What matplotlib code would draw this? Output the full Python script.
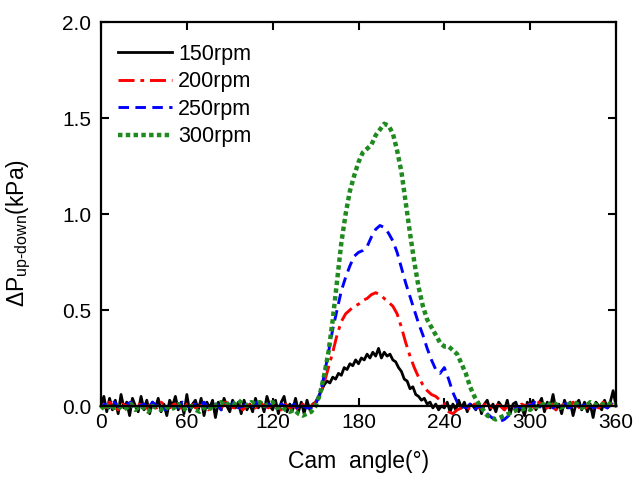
import numpy as np
import matplotlib
matplotlib.use("Agg")
import matplotlib.pyplot as plt

plt.rcParams['font.family'] = ['Liberation Sans', 'DejaVu Sans']
plt.rcParams['mathtext.fontset'] = 'custom'
plt.rcParams['mathtext.rm'] = 'Liberation Sans'
plt.rcParams['mathtext.it'] = 'Liberation Sans:italic'

# cam angle grids (deg)
angle_150 = np.arange(0, 361, 2)
angle_other = np.arange(0, 361, 3)

# 150 rpm, every 2 deg
dp_150 = [
    0.00, 0.05, -0.03, 0.04, -0.02, 0.03, -0.04, 0.06, -0.01, 0.02,
    -0.05, 0.04, 0.00, -0.03, 0.05, -0.02, 0.03, -0.04, 0.02, -0.01,
    0.04, -0.03, 0.01, -0.05, 0.03, 0.00, 0.05, -0.02, 0.02, -0.04,
    0.06, -0.03, 0.01, 0.03, -0.02, 0.04, -0.05, 0.02, -0.01, 0.03,
    -0.06, 0.02, -0.02, 0.04, 0.00, -0.03, 0.03, -0.01, 0.02, -0.04,
    0.03, -0.02, 0.01, -0.03, 0.04, -0.01, 0.02, -0.03, 0.05, 0.00,
    -0.02, 0.03, -0.04, 0.02, 0.05, -0.03, 0.01, -0.02, 0.04, -0.03,
    0.02, -0.04, 0.03, -0.02, 0.01,
    0.02, 0.05, 0.08, 0.11, 0.13, 0.12, 0.15, 0.14, 0.17, 0.16,
    0.20, 0.19, 0.22, 0.21, 0.24, 0.22, 0.25, 0.24, 0.27, 0.25,
    0.28, 0.26, 0.30, 0.25, 0.28, 0.26, 0.27, 0.24, 0.23, 0.20,
    0.18, 0.14, 0.13, 0.09, 0.10, 0.06, 0.05, 0.03, 0.04, 0.01,
    0.02, -0.01, 0.01, -0.02, 0.00, -0.01, 0.02, -0.03, 0.01, -0.02,
    0.03, -0.01, 0.02, -0.03, 0.01, 0.00, -0.02, 0.02, -0.04, 0.01,
    0.03, -0.02, 0.01, -0.03, 0.02, 0.00, -0.02, 0.03, -0.04, 0.01,
    0.02, -0.03, 0.00, -0.05, 0.02, -0.01, 0.03, -0.02, 0.01, 0.04,
    -0.03, 0.02, -0.01, 0.06, -0.02, 0.01, -0.04, 0.03, -0.01, 0.02,
    -0.05, 0.01, 0.03, -0.02, 0.02, -0.03, 0.01, -0.06, 0.02, 0.00,
    -0.02, 0.03, -0.01, 0.02, 0.08, 0.00,
]

# 200 rpm, every 3 deg
dp_200 = [
    0.01, -0.01, 0.02, 0.00, -0.02, 0.01, 0.00, 0.02, -0.01, 0.01,
    -0.02, 0.00, 0.01, -0.01, 0.02, 0.00, -0.01, 0.01, 0.00, -0.02,
    0.01, 0.02, -0.01, 0.00, 0.01, -0.02, 0.01, 0.00, -0.01, 0.02,
    0.00, -0.01, 0.01, -0.02, 0.00, 0.01, -0.01, 0.02, 0.00, -0.01,
    0.01, 0.00, -0.02, 0.01, -0.01, 0.00, -0.02, 0.01, -0.01, 0.00,
    0.02, 0.05, 0.12, 0.20, 0.28, 0.37, 0.44, 0.48, 0.50, 0.52,
    0.53, 0.55, 0.56, 0.58, 0.59, 0.58, 0.56, 0.54, 0.52, 0.48,
    0.41, 0.33, 0.26, 0.20, 0.15, 0.11, 0.08, 0.06, 0.05, 0.03,
    0.01, -0.03, -0.04, -0.02, -0.01, 0.00, -0.02, 0.01, -0.01, 0.00,
    0.02, -0.01, 0.01, 0.00, -0.02, 0.01, 0.00, -0.01, 0.01, 0.00,
    0.01, -0.01, 0.02, 0.00, -0.01, 0.01, -0.02, 0.00, 0.01, -0.01,
    0.02, 0.00, -0.02, -0.01, 0.01, 0.00, -0.01, 0.02, 0.00, 0.01, 0.01,
]

# 250 rpm
dp_250 = [
    0.00, 0.01, -0.01, 0.02, 0.00, -0.01, 0.01, 0.02, -0.02, 0.00,
    0.01, -0.01, 0.02, 0.00, 0.01, -0.02, 0.00, 0.01, -0.01, 0.02,
    0.00, -0.01, 0.01, 0.00, 0.02, -0.01, 0.00, 0.01, -0.02, 0.01,
    0.00, 0.02, -0.01, 0.00, 0.01, -0.01, 0.02, 0.00, -0.01, 0.01,
    0.00, -0.02, 0.01, 0.00, -0.01, 0.01, -0.02, 0.00, -0.01, -0.01,
    0.01, 0.06, 0.16, 0.28, 0.40, 0.50, 0.60, 0.67, 0.73, 0.78,
    0.80, 0.81, 0.83, 0.88, 0.92, 0.94, 0.93, 0.90, 0.86, 0.80,
    0.72, 0.64, 0.57, 0.50, 0.43, 0.37, 0.30, 0.24, 0.19, 0.17,
    0.20, 0.14, 0.07, 0.02, 0.00, -0.01, 0.01, -0.02, 0.00, -0.01,
    -0.04, -0.06, -0.07, -0.08, -0.07, -0.05, -0.03, 0.00, -0.01, 0.01,
    0.00, 0.02, -0.01, 0.01, 0.00, -0.02, 0.01, 0.00, 0.02, -0.01,
    0.00, 0.01, -0.01, 0.02, 0.00, -0.01, 0.01, 0.00, -0.01, 0.01, 0.00,
]

# 300 rpm
dp_300 = [
    0.00, -0.02, 0.01, -0.01, 0.00, -0.02, -0.01, 0.01, -0.02, 0.00,
    -0.01, -0.03, 0.00, -0.01, -0.02, 0.00, -0.02, -0.01, 0.01, -0.02,
    -0.01, 0.00, -0.02, -0.03, -0.01, 0.00, -0.02, 0.01, 0.02, 0.00,
    0.02, 0.01, 0.03, 0.01, 0.00, 0.02, 0.01, 0.02, 0.00, 0.01,
    0.02, -0.01, 0.00, -0.02, -0.03, -0.02, -0.04, -0.05, -0.04, -0.03,
    0.00, 0.06, 0.16, 0.28, 0.45, 0.65, 0.85, 1.00, 1.12, 1.20,
    1.27, 1.32, 1.34, 1.36, 1.41, 1.44, 1.47, 1.46, 1.42, 1.33,
    1.22, 1.06, 0.90, 0.75, 0.62, 0.52, 0.45, 0.41, 0.37, 0.33,
    0.31, 0.31, 0.29, 0.27, 0.22, 0.17, 0.10, 0.05, 0.01, -0.02,
    -0.05, -0.06, -0.07, -0.06, -0.05, -0.04, -0.03, -0.02, -0.02, -0.01,
    -0.02, 0.00, -0.01, 0.01, 0.00, 0.02, 0.01, -0.01, 0.00, 0.01,
    0.02, 0.01, -0.01, 0.00, 0.02, 0.01, 0.00, 0.01, 0.02, 0.00, 0.01,
]

labels = ['150rpm', '200rpm', '250rpm', '300rpm']
x_ticks = [0, 60, 120, 180, 240, 300, 360]
y_ticks = [0.0, 0.5, 1.0, 1.5, 2.0]

fig = plt.figure(figsize=(6.33, 4.79), dpi=100)
ax = fig.add_axes([101/633, 1 - 406/479, 515/633, 384/479])

ax.plot(angle_150, dp_150, color='black', lw=2.0, label=labels[0], clip_on=False)
ax.plot(angle_other, dp_200, color='red', lw=2.1, dashes=(5.5, 2, 1.3, 2), label=labels[1], clip_on=False)
ax.plot(angle_other, dp_250, color='blue', lw=2.1, dashes=(3.6, 2.2), label=labels[2], clip_on=False)
ax.plot(angle_other, dp_300, color='#1f8a1f', lw=3.2, dashes=(1.0, 0.75), label=labels[3], clip_on=False)

ax.set_xlim(0, 360)
ax.set_ylim(0, 2.0)
ax.set_xticks(x_ticks)
ax.set_yticks(y_ticks)
ax.set_yticklabels(['%.1f' % v for v in y_ticks])
ax.tick_params(direction='in', top=True, right=True, length=6, width=1.5,
               labelsize=15)
ax.tick_params(axis='x', pad=5)
ax.tick_params(axis='y', pad=7)
for s in ax.spines.values():
    s.set_linewidth(1.6)

ax.set_xlabel('Cam  angle(°)', fontsize=16.5)
ax.xaxis.set_label_coords(0.5, -0.115)
ax.set_ylabel('ΔP$_{\\text{up-down}}$(kPa)', fontsize=16.5)
ax.yaxis.set_label_coords(-0.132, 0.45)

ax.legend(loc='upper left', bbox_to_anchor=(0.033, 0.943), frameon=False,
          fontsize=15.5, handlelength=2.5, handletextpad=0.3,
          labelspacing=0.3, borderpad=0, borderaxespad=0)

fig.savefig('out.png', dpi=100)
